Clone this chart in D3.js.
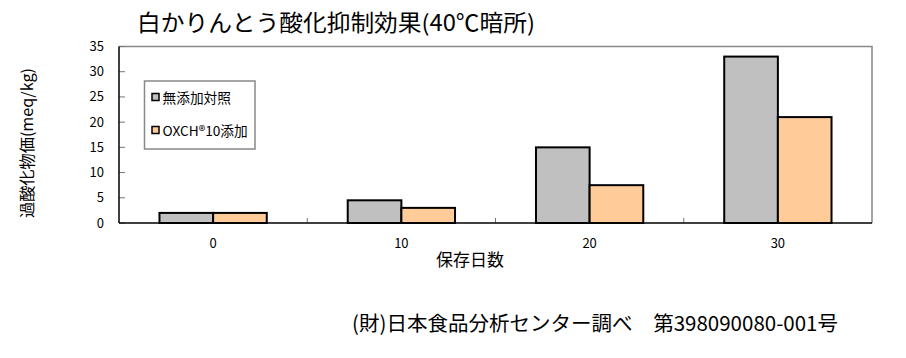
<!DOCTYPE html>
<html><head><meta charset="utf-8">
<script src="https://cdn.jsdelivr.net/npm/d3@7"></script>
<style>body{margin:0;background:#fff;} text{font-family:"Noto Sans CJK JP","Noto Sans",sans-serif;}</style>
</head><body><svg id="c" width="906" height="358"></svg>
<script>
const categories = ["0","10","20","30"];
const seriesNames = ["無添加対照","OXCH®10添加"];
const control = [2, 4.5, 15, 33];
const oxch = [2, 3, 7.5, 21];
const yTicks = [0,5,10,15,20,25,30,35];
const colors = ["#c0c0c0","#ffcc99"];

const svg = d3.select("#c");
const m = {l:119, r:872, t:46.5, b:223};
const x = d3.scaleBand().domain(categories).range([m.l, m.r]);
const y = d3.scaleLinear().domain([0,35]).range([m.b, m.t]);
const barW = x.bandwidth()*0.285;

// frame
svg.append("path").attr("d",`M${m.l},${m.t}H${m.r}V${m.b}`).attr("fill","none").attr("stroke","#888").attr("stroke-width",1.5);

// y ticks inward
yTicks.forEach(v=>{
  svg.append("line").attr("x1",m.l).attr("x2",m.l+6).attr("y1",y(v)).attr("y2",y(v)).attr("stroke","#777").attr("stroke-width",1);
  svg.append("text").attr("x",m.l-15).attr("y",y(v)+4.5).attr("text-anchor","end").attr("font-size",13).text(v);
});
// x boundary ticks
categories.slice(1).forEach(c=>{
  const xx = x(c);
  svg.append("line").attr("x1",xx).attr("x2",xx).attr("y1",m.b).attr("y2",m.b-5).attr("stroke","#777");
});

const data = [control, oxch];
data.forEach((s,si)=>{
  svg.append("g").selectAll("rect").data(s).join("rect")
    .attr("x",(d,i)=>x(categories[i])+x.bandwidth()/2 + (si===0?-barW:0))
    .attr("y",d=>y(d)).attr("width",barW).attr("height",d=>m.b-y(d))
    .attr("fill",colors[si]).attr("stroke","#000").attr("stroke-width",2);
});

// axes lines
svg.append("line").attr("x1",m.l).attr("x2",m.l).attr("y1",m.t).attr("y2",m.b).attr("stroke","#000").attr("stroke-width",1.5);
svg.append("line").attr("x1",m.l).attr("x2",m.r).attr("y1",m.b).attr("y2",m.b).attr("stroke","#000").attr("stroke-width",1.5);

// x labels
categories.forEach(c=>{
  svg.append("text").attr("x",x(c)+x.bandwidth()/2).attr("y",248).attr("text-anchor","middle").attr("font-size",13).text(c);
});
svg.append("text").attr("x",470).attr("y",266).attr("text-anchor","middle").attr("font-size",17).text("保存日数");

// y label
svg.append("text").attr("transform","translate(33,143) rotate(-90)").attr("text-anchor","middle").attr("font-size",15.5)
  .attr("textLength",150).attr("lengthAdjust","spacingAndGlyphs").text("過酸化物価(meq/kg)");

// title
svg.append("text").attr("x",137).attr("y",31).attr("font-size",22.5)
  .attr("textLength",398).attr("lengthAdjust","spacingAndGlyphs").text("白かりんとう酸化抑制効果(40℃暗所)");

// legend
const lg = svg.append("g");
lg.append("rect").attr("x",144.5).attr("y",81).attr("width",110.5).attr("height",68).attr("fill","#fff").attr("stroke","#888").attr("stroke-width",1.5);
seriesNames.forEach((n,i)=>{
  const yy = 97.5 + i*33;
  lg.append("rect").attr("x",152).attr("y",yy-4).attr("width",7).attr("height",7).attr("fill",colors[i]).attr("stroke","#000").attr("stroke-width",1.5);
  lg.append("text").attr("x",162.5).attr("y",yy+5.5).attr("font-size",13.7).text(n);
});

// footer
svg.append("text").attr("x",352).attr("y",331).attr("font-size",20.5)
  .attr("textLength",486).attr("lengthAdjust","spacingAndGlyphs").text("(財)日本食品分析センター調べ　第398090080-001号");
</script></body></html>
